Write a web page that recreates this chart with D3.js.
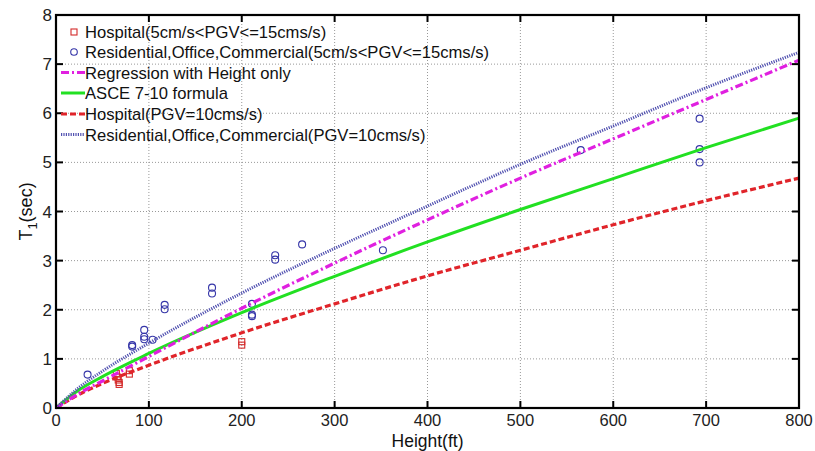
<!DOCTYPE html>
<html><head><meta charset="utf-8">
<script src="https://cdn.jsdelivr.net/npm/d3@7"></script>
<style>body{margin:0;background:#fff;} text{font-family:"Liberation Sans",Arial,sans-serif;}</style>
</head><body><svg id="c" width="815" height="451"></svg>
<script>
// ---- data ----
const xTicks = [0,100,200,300,400,500,600,700,800];
const yTicks = [0,1,2,3,4,5,6,7,8];
const hospitalPts = [[65,0.70],[66,0.63],[67,0.57],[68,0.52],[68,0.48],[79,0.76],[79,0.69],[200,1.35],[200,1.28]];
const residentialPts = [[34,0.68],[82,1.28],[82,1.25],[95,1.59],[95,1.45],[95,1.40],[104,1.39],[117,2.10],[117,2.01],[168,2.45],[168,2.33],[211,2.12],[211,1.90],[211,1.87],[236,3.11],[236,3.02],[265,3.33],[352,3.21],[565,5.25],[693,5.89],[693,5.27],[693,5.00]];
const curveHeights = [0,25,50,100,200,300,400,500,600,700,800];
const regressionT = [0,0.30,0.55,1.05,2.03,2.95,3.83,4.68,5.48,6.28,7.08];
const asceT = [0,0.37,0.64,1.11,1.94,2.68,3.38,4.04,4.67,5.30,5.90];
const hospitalT = [0,0.28,0.50,0.87,1.53,2.12,2.69,3.21,3.73,4.22,4.68];
const residentialT = [0,0.42,0.75,1.32,2.34,3.25,4.11,4.96,5.74,6.52,7.24];
const legendLabels = ["Hospital(5cm/s<PGV<=15cms/s)","Residential,Office,Commercial(5cm/s<PGV<=15cms/s)","Regression with Height only","ASCE 7-10 formula","Hospital(PGV=10cms/s)","Residential,Office,Commercial(PGV=10cms/s)"];

// ---- layout ----
const L=56,R=799,T=15,B=408;
const svg=d3.select("#c");
const x=d3.scaleLinear().domain([0,800]).range([L,R]);
const y=d3.scaleLinear().domain([0,8]).range([B,T]);

// grid
const g=svg.append("g");
g.selectAll(".gx").data(xTicks.slice(1,-1)).join("line")
 .attr("x1",d=>x(d)).attr("x2",d=>x(d)).attr("y1",T).attr("y2",B)
 .attr("stroke","#999").attr("stroke-width",1).attr("stroke-dasharray","1,2");
g.selectAll(".gy").data(yTicks.slice(1,-1)).join("line")
 .attr("y1",d=>y(d)).attr("y2",d=>y(d)).attr("x1",L).attr("x2",R)
 .attr("stroke","#999").attr("stroke-width",1).attr("stroke-dasharray","1,2");

// points
svg.append("g").selectAll("rect").data(hospitalPts).join("rect")
 .attr("x",d=>x(d[0])-3).attr("y",d=>y(d[1])-3).attr("width",6).attr("height",6)
 .attr("fill","none").attr("stroke","#d42a2a").attr("stroke-width",1.1);
svg.append("g").selectAll("circle").data(residentialPts).join("circle")
 .attr("cx",d=>x(d[0])).attr("cy",d=>y(d[1])).attr("r",3.5)
 .attr("fill","none").attr("stroke","#3535a8").attr("stroke-width",1.1);

// curves
const line=d3.line().x(d=>x(d[0])).y(d=>y(d[1])).curve(d3.curveMonotoneX);
const styles=[
 {v:hospitalT,c:"#e0242a",w:3.2,da:"6,3"},
 {v:asceT,c:"#22e022",w:3,da:null},
 {v:regressionT,c:"#e020e0",w:3.2,da:"8,3,2,3"},
 {v:residentialT,c:"#5050b0",w:3,da:"1.2,1.2"}
];
styles.forEach(s=>{
 svg.append("path").datum(curveHeights.map((h,i)=>[h,s.v[i]]))
  .attr("d",line).attr("fill","none").attr("stroke",s.c).attr("stroke-width",s.w)
  .attr("stroke-dasharray",s.da);
});

// axes frame
svg.append("rect").attr("x",L).attr("y",T).attr("width",R-L).attr("height",B-T)
 .attr("fill","none").attr("stroke","#000").attr("stroke-width",2.2);
const tk=7;
const ax=svg.append("g").attr("stroke","#000").attr("stroke-width",2);
xTicks.forEach(d=>{
 ax.append("line").attr("x1",x(d)).attr("x2",x(d)).attr("y1",B).attr("y2",B-tk);
 ax.append("line").attr("x1",x(d)).attr("x2",x(d)).attr("y1",T).attr("y2",T+tk);
});
yTicks.forEach(d=>{
 ax.append("line").attr("y1",y(d)).attr("y2",y(d)).attr("x1",L).attr("x2",L+tk);
 ax.append("line").attr("y1",y(d)).attr("y2",y(d)).attr("x1",R).attr("x2",R-tk);
});
svg.append("g").selectAll("text").data(xTicks).join("text")
 .attr("x",d=>x(d)).attr("y",B+18).attr("text-anchor","middle")
 .attr("font-size",16.5).attr("fill","#222").text(d=>d);
svg.append("g").selectAll("text").data(yTicks).join("text")
 .attr("x",L-4).attr("y",d=>y(d)+6).attr("text-anchor","end")
 .attr("font-size",17).attr("fill","#222").text(d=>d);
svg.append("text").attr("x",(L+R)/2).attr("y",447).attr("text-anchor","middle")
 .attr("font-size",17.5).attr("fill","#111").text("Height(ft)");
const yl=svg.append("text").attr("transform","translate(32,"+((T+B)/2)+") rotate(-90)")
 .attr("text-anchor","middle").attr("font-size",18).attr("fill","#111");
yl.append("tspan").text("T");
yl.append("tspan").attr("dy",5).attr("font-size",13).text("1");
yl.append("tspan").attr("dy",-5).text("(sec)");

// legend
const lg=svg.append("g");
const rowY=[32,52,72.5,93,114,134.5];
legendLabels.forEach((t,i)=>{
 lg.append("text").attr("x",85).attr("y",rowY[i]+6).attr("font-size",16.6).attr("fill","#111").text(t);
});
lg.append("rect").attr("x",71).attr("y",rowY[0]-3).attr("width",6).attr("height",6)
 .attr("fill","none").attr("stroke","#d42a2a").attr("stroke-width",1.1);
lg.append("circle").attr("cx",74).attr("cy",rowY[1]).attr("r",3.3)
 .attr("fill","none").attr("stroke","#3535a8").attr("stroke-width",1.1);
const lgStyles=[styles[2],styles[1],styles[0],styles[3]];
lgStyles.forEach((s,i)=>{
 lg.append("line").attr("x1",61).attr("x2",85).attr("y1",rowY[i+2]).attr("y2",rowY[i+2])
  .attr("stroke",s.c).attr("stroke-width",s.w).attr("stroke-dasharray",s.da);
});
</script></body></html>
